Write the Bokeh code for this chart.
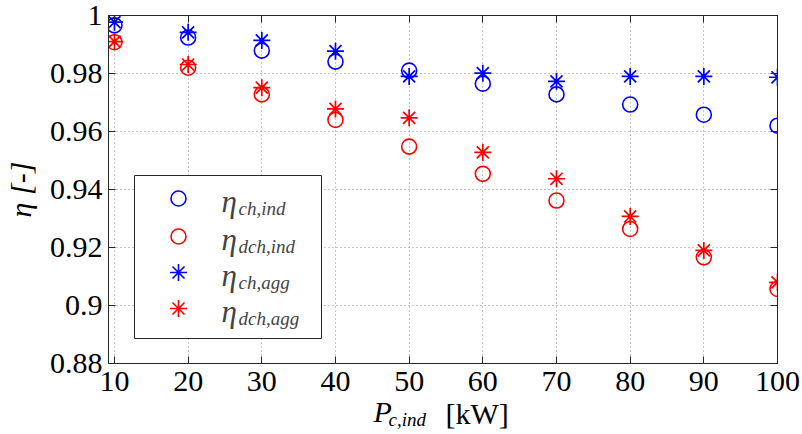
from bokeh.plotting import figure
from bokeh.models import (Range1d, FixedTicker, NumeralTickFormatter, LinearAxis,
                          BoxAnnotation, Label, ColumnDataSource, Title)
from bokeh.embed import file_html
from bokeh.resources import INLINE

# ---------------- data ----------------
P_c_ind = [10, 20, 30, 40, 50, 60, 70, 80, 90, 100]
eta_ch_ind = [0.9966, 0.9924, 0.9879, 0.9841, 0.9810, 0.9765, 0.9728, 0.9693, 0.9658, 0.9620]
eta_dch_ind = [0.9908, 0.9820, 0.9728, 0.9640, 0.9548, 0.9454, 0.9362, 0.9264, 0.9166, 0.9057]
eta_ch_agg = [0.9977, 0.9942, 0.9914, 0.9877, 0.9790, 0.9801, 0.9773, 0.9790, 0.9790, 0.9787]
eta_dch_agg = [0.9910, 0.9831, 0.9751, 0.9678, 0.9647, 0.9528, 0.9437, 0.9307, 0.9190, 0.9080]

x_ticks = [10, 20, 30, 40, 50, 60, 70, 80, 90, 100]
y_ticks = [0.88, 0.90, 0.92, 0.94, 0.96, 0.98, 1.0]

series_names = ["ch,ind", "dch,ind", "ch,agg", "dch,agg"]

# ---------------- geometry ----------------
W, H = 802, 434
FL, FR, FT, FB = 108, 777, 15, 363   # frame edges in canvas pixels
X0, X1 = 9.19, 100.0
Y0, Y1 = 0.88, 1.0

def px2x(px):   # canvas pixel -> data x (legend placement)
    return X0 + (px - FL) * (X1 - X0) / (FR - FL)

def px2y(py):   # canvas pixel -> data y (legend placement)
    return Y1 - (py - FT) * (Y1 - Y0) / (FB - FT)

SERIF = "Liberation Serif"
AX = "#262626"
BLUE = "#0000ff"
RED = "#ff0000"

p = figure(width=W, height=H, output_backend="svg", toolbar_location=None,
           x_range=Range1d(X0, X1), y_range=Range1d(Y0, Y1),
           min_border_left=FL, min_border_right=W - FR,
           min_border_top=FT, min_border_bottom=H - FB,
           background_fill_color="white", border_fill_color="white")
p.outline_line_color = AX
p.outline_line_width = 1

for ax in (p.xaxis[0], p.yaxis[0]):
    ax.axis_line_color = AX
    ax.major_tick_line_color = AX
    ax.major_tick_in = 7
    ax.major_tick_out = 0
    ax.minor_tick_line_color = None
    ax.major_label_text_font = SERIF
    ax.major_label_text_font_size = "30px"
    ax.major_label_text_color = "black"
    ax.major_label_standoff = 6

p.xaxis[0].ticker = FixedTicker(ticks=x_ticks)
p.yaxis[0].ticker = FixedTicker(ticks=y_ticks)
p.yaxis[0].formatter = NumeralTickFormatter(format="0.[00]")
p.xaxis[0].major_label_standoff = 8

# y axis title
p.yaxis[0].axis_label = "η [-]"
p.yaxis[0].axis_label_text_font = SERIF
p.yaxis[0].axis_label_text_font_size = "30px"
p.yaxis[0].axis_label_text_font_style = "italic"
p.yaxis[0].axis_label_text_color = "black"
p.yaxis[0].axis_label_standoff = 10

for loc, tk in (("above", x_ticks), ("right", y_ticks)):
    a = LinearAxis(ticker=FixedTicker(ticks=tk))
    a.major_label_text_font_size = "1px"
    a.major_label_text_color = None
    a.major_label_standoff = 0
    a.major_tick_in = 7
    a.major_tick_out = 0
    a.minor_tick_line_color = None
    a.axis_line_color = AX
    a.major_tick_line_color = AX
    p.add_layout(a, loc)

p.xgrid.ticker = FixedTicker(ticks=x_ticks)
p.ygrid.ticker = FixedTicker(ticks=y_ticks)
for g in (p.xgrid[0], p.ygrid[0]):
    g.grid_line_color = "#8c8c8c"
    g.grid_line_dash = "1 3"
    g.grid_line_width = 1

src = ColumnDataSource(dict(P=P_c_ind, ch_ind=eta_ch_ind, dch_ind=eta_dch_ind,
                            ch_agg=eta_ch_agg, dch_agg=eta_dch_agg))

p.scatter("P", "ch_ind", source=src, marker="circle", size=15, fill_color=None,
          line_color=BLUE, line_width=1.6)
p.scatter("P", "dch_ind", source=src, marker="circle", size=15, fill_color=None,
          line_color=RED, line_width=1.6)
p.scatter("P", "ch_agg", source=src, marker="asterisk", size=17,
          line_color=BLUE, line_width=1.7)
p.scatter("P", "dch_agg", source=src, marker="asterisk", size=17,
          line_color=RED, line_width=1.7)

# ---------------- legend ----------------
box = BoxAnnotation(left=px2x(134), right=px2x(321), top=px2y(175), bottom=px2y(338),
                    fill_color="white", fill_alpha=1.0, line_color=AX, line_width=1,
                    line_alpha=1.0)
p.add_layout(box)

row_y = [198, 236, 272, 308]
leg_markers = [("circle", BLUE), ("circle", RED), ("asterisk", BLUE), ("asterisk", RED)]
for (mk, col), ry, name in zip(leg_markers, row_y, series_names):
    r = p.scatter([px2x(178)], [px2y(ry)], marker=mk, size=15 if mk == "circle" else 17,
                  fill_color=None, line_color=col, line_width=1.6)
    r.level = "overlay"
    p.add_layout(Label(x=px2x(221), y=px2y(ry + 3), text="η", text_font=SERIF,
                       text_font_style="italic", text_font_size="31px",
                       text_baseline="alphabetic", text_align="left", level="overlay"))
    p.add_layout(Label(x=px2x(238), y=px2y(ry + 10), text=name, text_font=SERIF,
                       text_font_style="italic", text_font_size="19px",
                       text_baseline="alphabetic", text_align="left", level="overlay"))

# ---------------- x axis title (P_{c,ind} [kW]) as titles in the lower panel ----------------
t_P = Title(text="P", align="left", vertical_align="top", offset=265, standoff=2,
            text_font=SERIF, text_font_style="italic", text_font_size="30px",
            text_color="black")
t_kW = Title(text="[kW]", align="left", vertical_align="top", offset=337, standoff=-67,
             text_font=SERIF, text_font_style="normal", text_font_size="30px",
             text_color="black")
t_sub = Title(text="c,ind", align="left", vertical_align="top", offset=280, standoff=-43,
              text_font=SERIF, text_font_style="italic", text_font_size="19px",
              text_color="black")
p.add_layout(t_P, "below")
p.add_layout(t_kW, "below")
p.add_layout(t_sub, "below")

open("out.html", "w").write(file_html(p, INLINE))
